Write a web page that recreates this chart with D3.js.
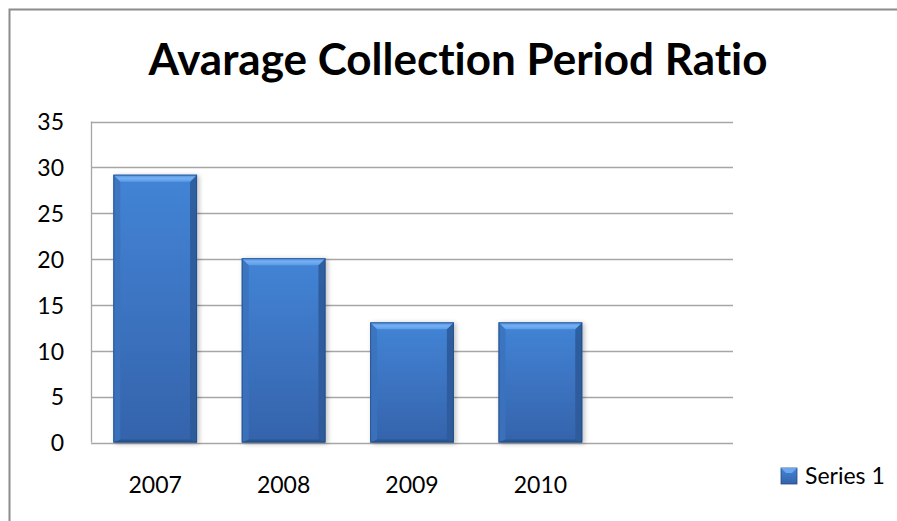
<!DOCTYPE html>
<html>
<head>
<meta charset="utf-8">
<script src="https://cdn.jsdelivr.net/npm/d3@7"></script>
<style>
  html, body { margin: 0; padding: 0; background: #fff; }
  svg { display: block; font-family: Lato, "Open Sans", sans-serif; font-variant-ligatures: none; font-feature-settings: "liga" 0; }
</style>
</head>
<body>
<svg id="chart" width="897" height="521"></svg>
<script>
// Chart data
const title = "Avarage Collection Period Ratio";
const categories = ["2007", "2008", "2009", "2010", ""];
const seriesName = "Series 1";
const seriesValues = [29.2, 20.1, 13.1, 13.1, null];
const yTicks = [0, 5, 10, 15, 20, 25, 30, 35];

const svg = d3.select("#chart");
const W = 897, H = 521;
const plot = { left: 91, top: 121.5, right: 733, bottom: 442.5 };

// Defs: gradients and shadow for the bevelled bars
const defs = svg.append("defs");
const face = defs.append("linearGradient").attr("id", "face").attr("x1", 0).attr("y1", 0).attr("x2", 0).attr("y2", 1);
face.append("stop").attr("offset", "0%").attr("stop-color", "#4384d6");
face.append("stop").attr("offset", "100%").attr("stop-color", "#3463ab");
const topBevel = defs.append("linearGradient").attr("id", "topBevel").attr("x1", 0).attr("y1", 0).attr("x2", 0).attr("y2", 1);
topBevel.append("stop").attr("offset", "0%").attr("stop-color", "#4f8ee0");
topBevel.append("stop").attr("offset", "50%").attr("stop-color", "#75b0f2");
topBevel.append("stop").attr("offset", "100%").attr("stop-color", "#5a9be8");
const shadow = defs.append("filter").attr("id", "shadow").attr("x", "-20%").attr("y", "-20%").attr("width", "150%").attr("height", "150%");
shadow.append("feGaussianBlur").attr("in", "SourceAlpha").attr("stdDeviation", 2.5);
shadow.append("feOffset").attr("dx", 2).attr("dy", 1).attr("result", "b");
shadow.append("feComponentTransfer").append("feFuncA").attr("type", "linear").attr("slope", 0.25);
const merge = shadow.append("feMerge");
merge.append("feMergeNode");
merge.append("feMergeNode").attr("in", "SourceGraphic");

// Outer chart frame (runs past the right and bottom edges)
svg.append("rect")
  .attr("x", 9.5).attr("y", 9.5)
  .attr("width", W + 20).attr("height", H + 20)
  .attr("fill", "none").attr("stroke", "#8c8c8c").attr("stroke-width", 2);

// Scales
const x = d3.scaleBand().domain(categories).range([plot.left, plot.right]).paddingInner(0.348).paddingOuter(0.174);
const y = d3.scaleLinear().domain([0, 35]).range([plot.bottom, plot.top]);

// Gridlines
svg.append("g").selectAll("line").data(yTicks).join("line")
  .attr("x1", plot.left).attr("x2", plot.right)
  .attr("y1", d => Math.round(y(d)) + 0.5).attr("y2", d => Math.round(y(d)) + 0.5)
  .attr("stroke", "#a6a6a6").attr("stroke-width", 1.3);

// Y axis line
svg.append("line")
  .attr("x1", plot.left + 0.5).attr("x2", plot.left + 0.5)
  .attr("y1", plot.top).attr("y2", plot.bottom)
  .attr("stroke", "#a6a6a6").attr("stroke-width", 1.3);

// Y axis labels
const yAxis = d3.axisLeft(y).tickValues(yTicks).tickSize(0).tickPadding(27);
const yg = svg.append("g").attr("transform", `translate(${plot.left},0)`).call(yAxis);
yg.select(".domain").remove();
yg.selectAll("text").attr("font-size", 23).attr("fill", "#000").attr("font-family", "Lato, sans-serif").attr("dy", "0.36em");

// X axis labels
const xAxis = d3.axisBottom(x).tickSize(0).tickPadding(34);
const xg = svg.append("g").attr("transform", `translate(0,${plot.bottom})`).call(xAxis);
xg.select(".domain").remove();
xg.selectAll("text").attr("font-size", 23).attr("fill", "#000").attr("font-family", "Lato, sans-serif");

// Bevelled bars
const bv = 7;
const bars = svg.append("g").selectAll("g")
  .data(categories.map((c, i) => ({ c, v: seriesValues[i] })).filter(d => d.v != null))
  .join("g")
  .attr("filter", "url(#shadow)");

bars.each(function(d) {
  const g = d3.select(this);
  const x0 = x(d.c), x1 = x0 + x.bandwidth();
  const y0 = y(d.v), y1 = y(0);
  g.append("rect").attr("x", x0).attr("y", y0).attr("width", x1 - x0).attr("height", y1 - y0).attr("fill", "url(#face)");
  // left edge
  g.append("path").attr("d", `M${x0},${y0}L${x0 + bv},${y0 + bv}L${x0 + bv},${y1 - 2}L${x0},${y1}Z`).attr("fill", "#3b72bd").attr("opacity", 0.85);
  // right edge
  g.append("path").attr("d", `M${x1},${y0}L${x1 - bv},${y0 + bv}L${x1 - bv},${y1 - 2}L${x1},${y1}Z`).attr("fill", "#2d5a99").attr("opacity", 0.9);
  // bottom edge
  g.append("path").attr("d", `M${x0},${y1}L${x0 + bv},${y1 - 3}L${x1 - bv},${y1 - 3}L${x1},${y1}Z`).attr("fill", "#2b5690");
  // top bevel
  g.append("path").attr("d", `M${x0},${y0}L${x1},${y0}L${x1 - bv},${y0 + bv}L${x0 + bv},${y0 + bv}Z`).attr("fill", "url(#topBevel)");
  // thin dark outline
  g.append("rect").attr("x", x0 + 0.5).attr("y", y0 + 0.5).attr("width", x1 - x0 - 1).attr("height", y1 - y0 - 1)
    .attr("fill", "none").attr("stroke", "#244a80").attr("stroke-width", 1).attr("opacity", 0.7);
});

// Title
svg.append("text")
  .attr("x", 458).attr("y", 75)
  .attr("text-anchor", "middle")
  .attr("font-size", 44).attr("font-weight", "bold").attr("fill", "#000")
  .attr("font-family", "Lato, sans-serif")
  .text(title);

// Legend
const lg = svg.append("g").attr("transform", "translate(781,468)");
lg.append("rect").attr("width", 16).attr("height", 16).attr("fill", "url(#face)").attr("stroke", "#244a80").attr("stroke-width", 0.8);
lg.append("path").attr("d", "M0,0L16,0L11,5L5,5Z").attr("fill", "#6aa7ee");
lg.append("text").attr("x", 24).attr("y", 16).attr("font-size", 23).attr("fill", "#000")
  .attr("font-family", "Lato, sans-serif").text(seriesName);
</script>
</body>
</html>
